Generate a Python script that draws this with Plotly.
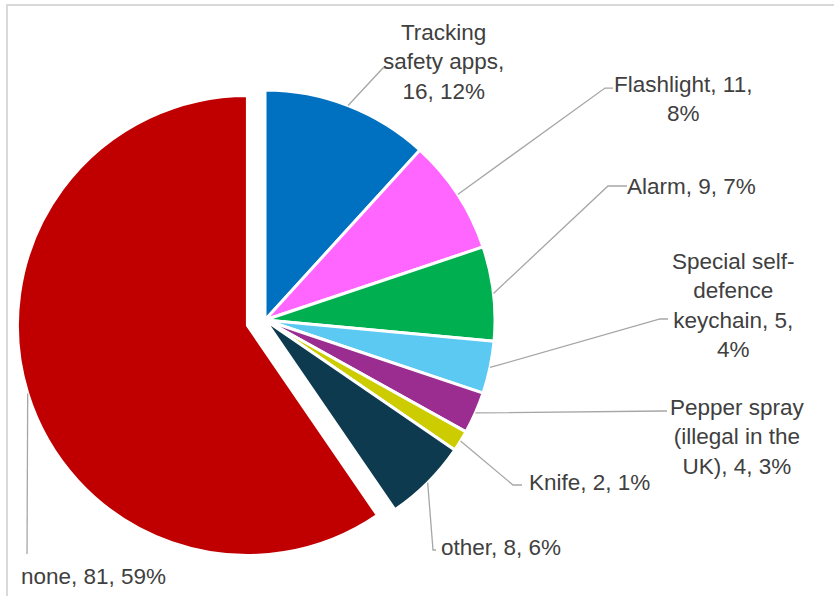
import math
import plotly.graph_objects as go

W, H = 834, 596

names = ["Tracking safety apps", "Flashlight", "Alarm", "Special self-defence keychain",
         "Pepper spray (illegal in the UK)", "Knife", "other", "none"]
values = [16, 11, 9, 5, 4, 2, 8, 81]
pct_labels = [12, 8, 7, 4, 3, 1, 6, 59]
colors = ["#0070C0", "#FF66FF", "#00B050", "#5BC9F2", "#9B2D91", "#CCCC00", "#0D3A4F", "#C00000"]
pulls = [0, 0, 0, 0, 0, 0, 0, 0.08]

label_texts = [
    "Tracking<br>safety apps,<br>%d, %d%%" % (values[0], pct_labels[0]),
    "Flashlight, %d,<br>%d%%" % (values[1], pct_labels[1]),
    "Alarm, %d, %d%%" % (values[2], pct_labels[2]),
    "Special self-<br>defence<br>keychain, %d,<br>%d%%" % (values[3], pct_labels[3]),
    "Pepper spray<br>(illegal in the<br>UK), %d, %d%%" % (values[4], pct_labels[4]),
    "Knife, %d, %d%%" % (values[5], pct_labels[5]),
    "other, %d, %d%%" % (values[6], pct_labels[6]),
    "none, %d, %d%%" % (values[7], pct_labels[7]),
]
# label centres (px) and leader-line anchor points (px)
label_pos = [(443, 62), (683, 99), (691, 186), (733, 305), (737, 437), (589, 482), (501, 547), (93, 576)]
anchors = [[(383, 68), (389, 68)], [(605, 88), (613, 88)], [(608, 186), (627, 186)],
           [(660, 319), (668, 319)], [(664, 411), (667, 411)], [(513, 485), (522, 485)],
           [(433, 550), (436, 550)], [(27, 554), (27, 554)]]

# pie geometry
cx, cy, r = 265, 320, 230
maxpull = max(pulls)
half = r * (1 + maxpull)
dom_x = [(cx - half) / W, (cx + half) / W]
dom_y = [(H - cy - half) / H, (H - cy + half) / H]

fig = go.Figure(go.Pie(
    labels=names, values=values, sort=False, direction="clockwise", rotation=0,
    marker=dict(colors=colors, line=dict(color="white", width=3)),
    pull=pulls, textinfo="none", hoverinfo="label+value+percent",
    domain=dict(x=dom_x, y=dom_y), showlegend=False,
))

def px2paper(x, y):
    return x / W, 1 - y / H

shapes = []
total = sum(values)
cum = 0
for i, v in enumerate(values):
    mid = (cum + v / 2) / total * 2 * math.pi
    cum += v
    ccx = cx + pulls[i] * r * math.sin(mid)
    ccy = cy - pulls[i] * r * math.cos(mid)
    sx = ccx + r * math.sin(mid)
    sy = ccy - r * math.cos(mid)
    pts = [(sx, sy)] + anchors[i]
    path = "M " + " L ".join("%.4f,%.4f" % px2paper(x, y) for x, y in pts)
    shapes.append(dict(type="path", path=path, xref="paper", yref="paper",
                       line=dict(color="#A6A6A6", width=1.3)))

# outer frame lines (chart area border)
shapes.append(dict(type="line", xref="paper", yref="paper", x0=6 / W, x1=1, y0=1 - 5 / H, y1=1 - 5 / H,
                   line=dict(color="#D9D9D9", width=2)))
shapes.append(dict(type="line", xref="paper", yref="paper", x0=7 / W, x1=7 / W, y0=0, y1=1 - 5 / H,
                   line=dict(color="#D9D9D9", width=2)))

annotations = []
for t, (x, y) in zip(label_texts, label_pos):
    xp, yp = px2paper(x, y)
    annotations.append(dict(text=t, x=xp, y=yp, xref="paper", yref="paper", showarrow=False,
                            xanchor="center", yanchor="middle", align="center",
                            font=dict(family="Liberation Sans, Arial, sans-serif", size=22.5, color="#404040")))

fig.update_layout(
    width=W, height=H, margin=dict(l=0, r=0, t=0, b=0),
    paper_bgcolor="white", plot_bgcolor="white",
    shapes=shapes, annotations=annotations,
)

fig.write_html("out.html")
